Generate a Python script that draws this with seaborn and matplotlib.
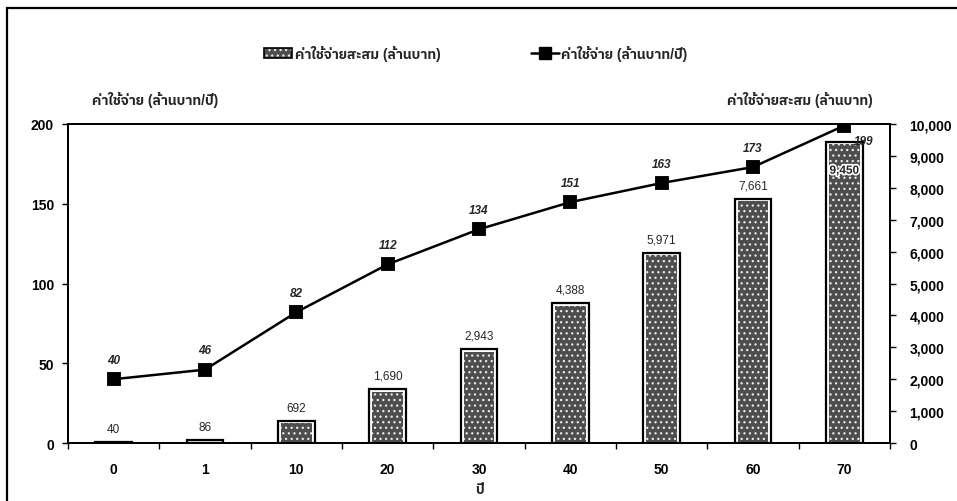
import matplotlib
matplotlib.use("Agg")
import numpy as np
import pandas as pd
import seaborn as sns
import matplotlib.pyplot as plt
from matplotlib import font_manager
from matplotlib.ft2font import FT2Font
from matplotlib.patches import Rectangle, Patch
from matplotlib.lines import Line2D
from matplotlib.legend_handler import HandlerTuple
from matplotlib.ticker import FuncFormatter, FixedLocator
import matplotlib.patheffects as pe

# ---- data -------------------------------------------------------------
years = ["0", "1", "10", "20", "30", "40", "50", "60", "70"]
annual_cost = [40, 46, 82, 112, 134, 151, 163, 173, 199]            # ล้านบาท/ปี
cumulative_cost = [40, 86, 692, 1690, 2943, 4388, 5971, 7661, 9450]  # ล้านบาท

label_cumulative = "ค่าใช้จ่ายสะสม (ล้านบาท)"
label_annual = "ค่าใช้จ่าย (ล้านบาท/ปี)"
label_year = "ปี"

left_ticks = [0, 50, 100, 150, 200]
right_ticks = list(range(0, 10001, 1000))


def find_thai_family():
    """Return an installed family that has Thai glyphs, if any."""
    names = []
    for f in font_manager.fontManager.ttflist:
        try:
            cmap = FT2Font(f.fname).get_charmap()
        except Exception:
            continue
        if 0x0E04 in cmap and 0x0E48 in cmap and 0x0E1B in cmap:
            names.append(f.name)
    for n in names:
        if "Thai" in n:
            return n
    return names[0] if names else None


sns.set_theme(style="white")
thai = find_thai_family()
families = ["Liberation Sans"] + ([thai] if thai else []) + ["DejaVu Sans"]
plt.rcParams["font.family"] = families
plt.rcParams["hatch.linewidth"] = 0.9

BAR_FILL = "#4d4d4d"

df = pd.DataFrame({"year": years, "annual": annual_cost, "cumulative": cumulative_cost})

fig = plt.figure(figsize=(9.57, 5.02), dpi=100)
ax = fig.add_axes([0.071, 0.1155, 0.859, 0.6355])
ax2 = ax.twinx()

# ---- cumulative cost bars (right axis) --------------------------------
sns.barplot(data=df, x="year", y="cumulative", order=years, ax=ax2,
            width=0.40, color="white", edgecolor="black", linewidth=1.6,
            saturation=1, errorbar=None)
n_outer = len(ax2.patches)
sns.barplot(data=df, x="year", y="cumulative", order=years, ax=ax2,
            width=0.335, color=BAR_FILL, edgecolor="#e8e8e8", linewidth=0,
            hatch="...", saturation=1, errorbar=None)
for p in ax2.patches[n_outer:]:
    p.set_height(max(p.get_height() - 80, 0))

# ---- annual cost line (left axis) -------------------------------------
sns.pointplot(data=df, x="year", y="annual", order=years, ax=ax,
              color="black", markers="s", markersize=8.5, linewidth=1.8,
              errorbar=None)
ax.set_zorder(ax2.get_zorder() + 1)
ax.patch.set_visible(False)

# ---- axes -------------------------------------------------------------
for a in (ax, ax2):
    a.set_xlim(-0.5, len(years) - 0.5)
    a.set_xlabel("")
    a.set_ylabel("")
    a.grid(False)
    for s in a.spines.values():
        s.set_color("black")
        s.set_linewidth(1.3)
        s.set_visible(True)

ax.set_ylim(0, 200)
ax.yaxis.set_major_locator(FixedLocator(left_ticks))
ax2.set_ylim(0, 10000)
ax2.yaxis.set_major_locator(FixedLocator(right_ticks))
ax2.yaxis.set_major_formatter(FuncFormatter(lambda v, _: f"{int(v):,}"))

ax.tick_params(axis="y", direction="out", length=4, width=1, pad=6,
               labelsize=10, left=True, colors="black")
ax2.tick_params(axis="y", direction="out", length=4, width=1, pad=10,
                labelsize=10, right=True, colors="black")
for lab in ax.get_yticklabels() + ax2.get_yticklabels():
    lab.set_fontweight("bold")

ax.set_xticks(range(len(years)))
ax.set_xticklabels(years, fontweight="bold", fontsize=10)
ax.xaxis.set_minor_locator(FixedLocator(np.arange(-0.5, len(years), 1.0)))
ax.tick_params(axis="x", which="major", length=0, pad=14, colors="black")
ax.tick_params(axis="x", which="minor", direction="out", length=4, width=1,
               bottom=True, colors="black")
ax2.tick_params(axis="x", which="both", length=0, labelbottom=False)
ax.set_xlabel(label_year, fontweight="bold", fontsize=10, labelpad=4)

# ---- value labels -----------------------------------------------------
for i, v in enumerate(annual_cost):
    off = (14, -11) if i == len(years) - 1 else (0, 14)
    ax.annotate(f"{v}", (i, v), xytext=off, textcoords="offset points",
                ha="center", va="center", fontsize=8.5,
                fontweight="bold", fontstyle="italic")

for i, v in enumerate(cumulative_cost):
    if i == len(years) - 1:
        ax2.annotate(f"{v:,}", (i, v), xytext=(0, -21), textcoords="offset points",
                     ha="center", va="center", fontsize=8.5, fontweight="bold",
                     path_effects=[pe.withStroke(linewidth=2.5, foreground="white")],
                     zorder=5)
    else:
        ax2.annotate(f"{v:,}", (i, v), xytext=(0, 9.5), textcoords="offset points",
                     ha="center", va="center", fontsize=8.5)

# ---- axis titles ------------------------------------------------------
fig.text(92 / 957, 1 - 100 / 502, label_annual, ha="left", va="center",
         fontsize=10, fontweight="bold")
fig.text(873 / 957, 1 - 100 / 502, label_cumulative, ha="right", va="center",
         fontsize=10, fontweight="bold")

# ---- legend -----------------------------------------------------------
bar_handle = (Patch(facecolor=BAR_FILL, edgecolor="#e8e8e8", hatch="...", linewidth=0),
              Patch(fill=False, edgecolor="black", linewidth=1.2))
line_handle = Line2D([], [], color="black", marker="s", markersize=8, linewidth=1.8)
fig.legend([bar_handle, line_handle], [label_cumulative, label_annual],
           handler_map={tuple: HandlerTuple(ndivide=1)},
           loc="center", bbox_to_anchor=(476 / 957, 1 - 54 / 502), ncol=2,
           frameon=False, handlelength=2.0, handleheight=0.8, handletextpad=0.2,
           columnspacing=6.5, prop={"weight": "bold", "size": 10})

# ---- outer frame ------------------------------------------------------
fig.add_artist(Rectangle((7 / 957, -0.05), 1.1, 1 - 9 / 502 + 0.05,
                         transform=fig.transFigure, fill=False,
                         edgecolor="black", linewidth=1.6))

fig.savefig("out.png", dpi=100)
